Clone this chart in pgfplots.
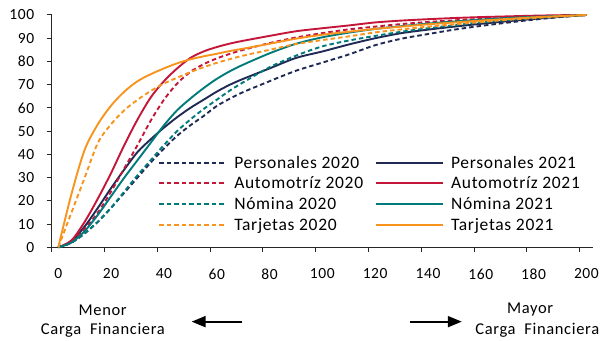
\documentclass[border=0pt]{standalone}
\usepackage{pgfplots}
\pgfplotsset{compat=1.18}
\usepackage{pgfplotstable}
\usetikzlibrary{arrows.meta}
\usepackage{fontspec}
\setmainfont{Carlito}
\newfontfamily\spaced[LetterSpace=4]{Carlito}

\definecolor{cnavy}{RGB}{32,42,84}
\definecolor{cred}{RGB}{196,22,56}
\definecolor{cteal}{RGB}{0,122,122}
\definecolor{corange}{RGB}{247,148,30}

\pgfplotstableread{
x   p20   p21   a20   a21   n20   n21   t20   t21
0   0     0     0     0     0     0     0     0
5   2     2.5   2.5   3     2     2     15    23
10  6     9     8     11    6     7     30    42
15  11    17    15    21    11    14    45    53
20  17    25.5  24    32    17    22    53    61
25  23.5  33.5  34    44    24    30    59    67
30  30    41    44    55    31    37.5  63.5  71.5
35  36.5  46.5  54.5  64.5  37.5  45    67.3  74.5
40  42.5  51.5  63.5  71.5  44    52.5  70.5  77
45  48    56    70.5  77    50    59    73    79.2
50  52.5  60    75.5  81.5  55    64    75.4  80.9
55  56.5  63.5  78.8  84.3  59.5  68.5  77.5  82.2
60  60.8  67    81.3  86.2  63.5  72.5  79.4  83.3
65  64    70    83.3  87.7  67.5  75.8  81    84.5
70  66.8  72.5  85    88.9  71    78.6  82.5  85.5
80  71.5  77    87.9  91    77.5  83.5  85    87.6
90  76    81.5  90.3  93    82.5  87.6  87.5  89.8
100 79.5  84.3  92.2  94.3  86.5  90.4  89.2  91.5
110 83    87.3  93.8  95.5  89    92.4  90.8  92.8
120 87    90    95    96.8  91    94    92.5  94
130 89.8  92.2  96.1  97.6  92.8  95.2  93.8  95
140 91.8  93.7  97    98.2  94.3  96.3  95    96
150 93.7  95.0  97.7  98.7  95.6  97.2  96    96.8
160 95.3  96.2  98.3  99.1  96.8  98    97    97.6
170 96.7  97.3  98.8  99.4  97.8  98.7  97.9  98.3
180 98    98.3  99.3  99.7  98.7  99.2  98.7  99
190 99.1  99.2  99.7  99.9  99.4  99.6  99.4  99.5
200 100   100   100   100   100   100   100   100
}\data

\pgfplotsset{
  s20/.style={line width=1.9bp, smooth, dash pattern=on 4.5bp off 3bp},
  s21/.style={line width=1.9bp, smooth},
}

\begin{document}
\begin{tikzpicture}
\begin{axis}[
  scale only axis, width=541.3bp, height=232.3bp,
  xmin=-2.5, xmax=202.5, ymin=0, ymax=100,
  axis lines*=left,
  axis line style={line width=1.3bp, black!85},
  xtick={0,20,...,200},
  minor xtick={-2.5,17.5,...,197.5},
  major x tick style={draw=none},
  ytick={0,10,...,100},
  tick align=outside,
  major tick length=5bp, minor tick length=5bp,
  tick style={line width=1bp, black!85},
  /pgf/number format/assume math mode=true,
  tick label style={font=\spaced\fontsize{15.5bp}{19bp}\selectfont},
  x tick label style={yshift=-13bp},
  y tick label style={xshift=-9bp},
  clip=false,
  legend columns=2,
  legend cell align=left,
  legend style={draw=none, fill=none, at={(axis cs:36.7,41.7)}, anchor=north west,
    font=\spaced\fontsize{17.5bp}{20bp}\selectfont,
    nodes={text height=13.5bp, text depth=2.5bp, inner sep=2bp},
    row sep=0.7bp,
    /tikz/every even column/.append style={column sep=10bp}},
  legend image code/.code={\draw[#1] (0bp,0bp) -- (67bp,0bp); \path (72bp,0bp);},
]
\addplot[cnavy, s20] table[x=x,y=p20]{\data};
\addlegendentry{Personales 2020}
\addplot[cnavy, s21] table[x=x,y=p21]{\data};
\addlegendentry{Personales 2021}
\addplot[cred, s20] table[x=x,y=a20]{\data};
\addlegendentry{Automotríz 2020}
\addplot[cred, s21] table[x=x,y=a21]{\data};
\addlegendentry{Automotríz 2021}
\addplot[cteal, s20] table[x=x,y=n20]{\data};
\addlegendentry{Nómina 2020}
\addplot[cteal, s21] table[x=x,y=n21]{\data};
\addlegendentry{Nómina 2021}
\addplot[corange, s20] table[x=x,y=t20]{\data};
\addlegendentry{Tarjetas 2020}
\addplot[corange, s21] table[x=x,y=t21]{\data};
\addlegendentry{Tarjetas 2021}

\node[font=\spaced\fontsize{16.5bp}{20bp}\selectfont] at (axis cs:16.8,-27) {Menor};
\node[font=\spaced\fontsize{16.5bp}{20bp}\selectfont] at (axis cs:16.9,-35.6) {Carga\ \ Financiera};
\node[font=\spaced\fontsize{16.5bp}{20bp}\selectfont] at (axis cs:178.7,-27) {Mayor};
\node[font=\spaced\fontsize{16.5bp}{20bp}\selectfont] at (axis cs:181.4,-35.6) {Carga\ \ Financiera};
\draw[line width=2bp, -{Triangle[length=14bp,width=11bp]}] (axis cs:69.7,-32) -- (axis cs:50.5,-32);
\draw[line width=2bp, -{Triangle[length=14bp,width=11bp]}] (axis cs:133.2,-32) -- (axis cs:152.8,-32);
\end{axis}
\pgfresetboundingbox
\path ([xshift=-51.7bp,yshift=-93.7bp]current axis.south west) rectangle ([xshift=10bp,yshift=15bp]current axis.north east);
\end{tikzpicture}
\end{document}
